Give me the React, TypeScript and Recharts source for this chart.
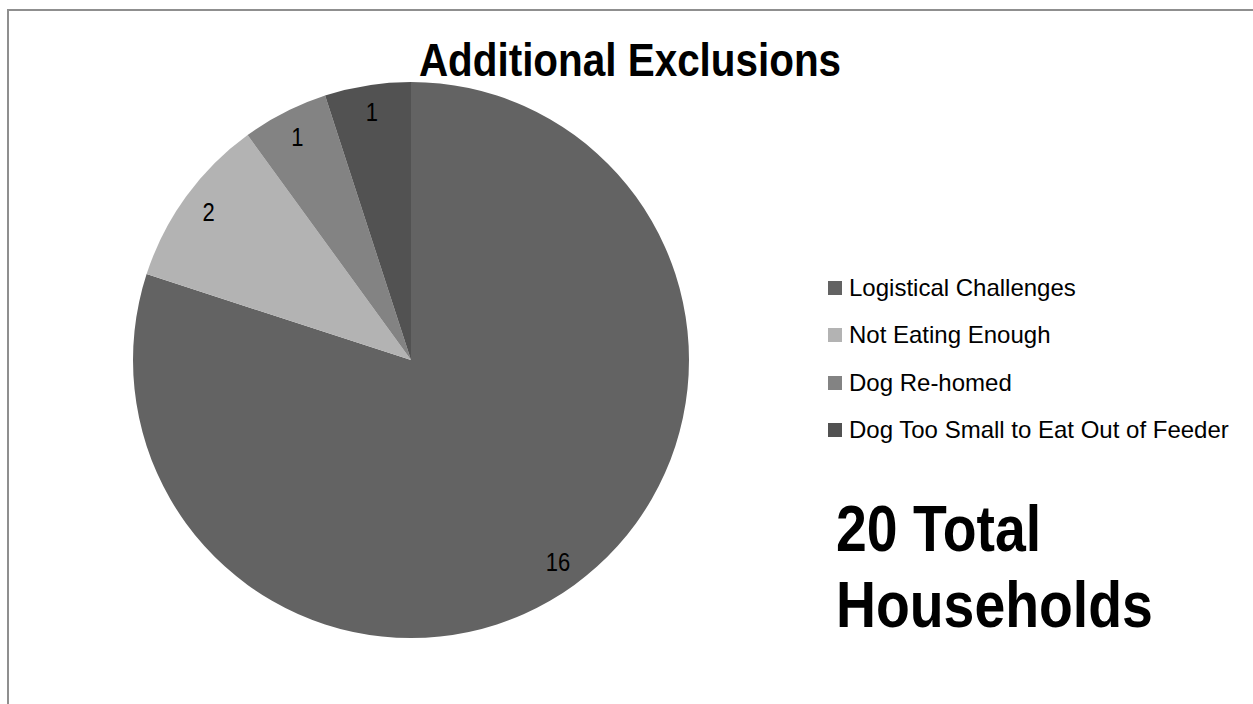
import React from 'react';
import { PieChart, Pie, Cell, Legend } from 'recharts';

const categories = [
  'Logistical Challenges',
  'Not Eating Enough',
  'Dog Re-homed',
  'Dog Too Small to Eat Out of Feeder',
];
const counts = [16, 2, 1, 1];
const colors = ['#636363', '#b3b3b3', '#838383', '#525252'];
const title = 'Additional Exclusions';
const note = ['20 Total', 'Households'];

const FONT = '"Liberation Sans", Arial, sans-serif';

const RADIAN = Math.PI / 180;

function renderLabel(props: any) {
  const { cx, cy, midAngle, outerRadius, value } = props;
  const r = outerRadius * 0.9;
  const x = cx + r * Math.cos(-midAngle * RADIAN);
  const y = cy + r * Math.sin(-midAngle * RADIAN);
  return (
    <text
      x={x}
      y={y}
      fill="#000"
      fontSize={25}
      fontFamily={FONT}
      textAnchor="middle"
      dominantBaseline="central"
      transform={`translate(${x} 0) scale(0.88 1) translate(${-x} 0)`}
    >
      {value}
    </text>
  );
}

function renderLegend() {
  return (
    <div style={{ fontFamily: FONT, fontSize: 24, color: '#000' }}>
      {categories.map((c, i) => (
        <div
          key={c}
          style={{ display: 'flex', alignItems: 'center', height: 47.5 }}
        >
          <span
            style={{
              width: 14,
              height: 14,
              background: colors[i],
              marginRight: 7,
              display: 'inline-block',
            }}
          />
          {c}
        </div>
      ))}
    </div>
  );
}

export default function App() {
  const data = categories.map((name, i) => ({ name, value: counts[i] }));

  return (
    <div
      style={{
        position: 'absolute',
        left: 0,
        top: 0,
        width: 1253,
        height: 704,
        overflow: 'hidden',
        background: '#fff',
      }}
    >
      {/* frame: only left/top edges are visible in the reference */}
      <div
        style={{
          position: 'absolute',
          left: 7,
          top: 9,
          width: 1300,
          height: 760,
          borderLeft: '2px solid #8f8f8f',
          borderTop: '2px solid #8f8f8f',
        }}
      />
      <div
        style={{
          position: 'absolute',
          left: 0,
          width: 1260,
          top: 32,
          textAlign: 'center',
          fontFamily: FONT,
          fontWeight: 'bold',
          fontSize: 47,
          lineHeight: '56px',
          color: '#000',
          transform: 'scaleX(0.86)',
          transformOrigin: '630px 0',
          whiteSpace: 'nowrap',
        }}
      >
        {title}
      </div>
      <div style={{ position: 'absolute', left: 0, top: 0 }}>
        <PieChart
          width={1253}
          height={704}
          margin={{ top: 0, right: 0, bottom: 0, left: 0 }}
        >
          <Pie
            data={data}
            dataKey="value"
            nameKey="name"
            cx={411}
            cy={360}
            outerRadius={278}
            startAngle={90}
            endAngle={-270}
            stroke="none"
            label={renderLabel}
            labelLine={false}
            isAnimationActive={false}
          >
            {data.map((d, i) => (
              <Cell key={d.name} fill={colors[i]} />
            ))}
          </Pie>
          <Legend
            layout="vertical"
            content={renderLegend}
            wrapperStyle={{ left: 828, top: 264, width: 420 }}
          />
        </PieChart>
      </div>
      <div
        style={{
          position: 'absolute',
          left: 836,
          top: 491,
          fontFamily: FONT,
          fontWeight: 'bold',
          fontSize: 64,
          lineHeight: '76px',
          color: '#000',
          transform: 'scaleX(0.865)',
          transformOrigin: 'left top',
          whiteSpace: 'nowrap',
        }}
      >
        {note.map((t) => (
          <div key={t}>{t}</div>
        ))}
      </div>
    </div>
  );
}
